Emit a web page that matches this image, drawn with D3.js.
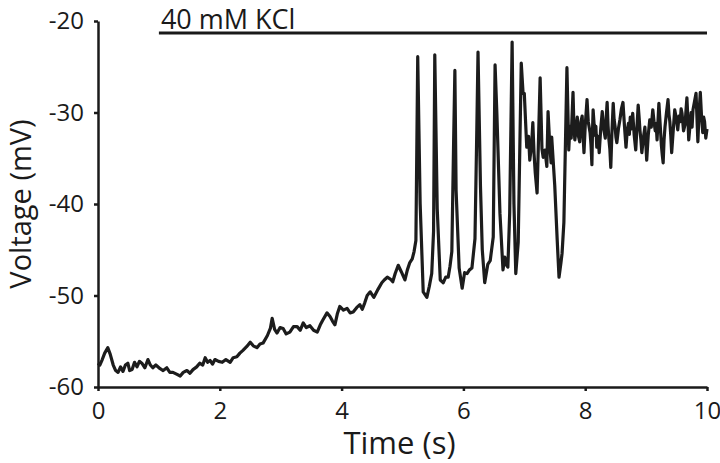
<!DOCTYPE html>
<html lang="en">
<head>
<meta charset="UTF-8">
<title>Voltage trace</title>
<script src="https://d3js.org/d3.v7.min.js"></script>
<style>
    body { margin: 0; background: #fff; }
    svg text { font-family: 'Open Sans', sans-serif; fill: #1a1a1a; }
</style>
</head>
<body>
<svg id="chart" width="720" height="463"></svg>
<script>
// time (s) and membrane voltage (mV)
let time = [
    0, 0.03, 0.07, 0.11, 0.16, 0.20, 0.25, 0.29, 0.33, 0.37, 0.41, 0.45, 0.49, 0.52, 0.56, 0.60, 0.64, 0.68, 0.72, 0.77,
    0.82, 0.86, 0.90, 0.95, 1.02, 1.07, 1.13, 1.18, 1.23, 1.29, 1.35, 1.40, 1.46, 1.51, 1.56, 1.62, 1.67, 1.72, 1.76, 1.80,
    1.84, 1.88, 1.92, 1.98, 2.04, 2.10, 2.17, 2.22, 2.28, 2.33, 2.38, 2.44, 2.50,
    2.55, 2.61, 2.66, 2.71, 2.78, 2.83, 2.86, 2.90, 2.94, 2.99, 3.04, 3.09, 3.15, 3.21, 3.27, 3.32, 3.37, 3.42, 3.48, 3.54,
    3.60, 3.65, 3.69, 3.76, 3.81, 3.85, 3.89, 3.93, 3.97, 4.03, 4.09, 4.14, 4.19, 4.25, 4.30, 4.34, 4.38, 4.42, 4.47, 4.53,
    4.60, 4.66, 4.70, 4.75, 4.80, 4.84, 4.88, 4.93, 4.98, 5.04, 5.08, 5.12, 5.16, 5.19,
    5.22, 5.25, 5.29, 5.34, 5.40, 5.44, 5.48, 5.51, 5.53, 5.57, 5.62, 5.67, 5.71, 5.75, 5.78, 5.81, 5.84, 5.86, 5.88, 5.93,
    5.98, 6.02, 6.06, 6.10, 6.14, 6.19, 6.22, 6.24, 6.28, 6.31, 6.35, 6.40, 6.44, 6.49, 6.52, 6.55, 6.60, 6.65, 6.68, 6.70,
    6.73, 6.76, 6.80, 6.83, 6.86, 6.90, 6.95, 6.98,
    7.00, 7.04, 7.07, 7.09, 7.12, 7.14, 7.16, 7.18, 7.21, 7.26, 7.29, 7.31, 7.34, 7.37, 7.39, 7.42, 7.44, 7.45, 7.50, 7.54,
    7.57, 7.60, 7.62, 7.65, 7.70,
    7.73, 7.745, 7.76, 7.77, 7.78, 7.80, 7.815, 7.83, 7.85, 7.87, 7.89, 7.91, 7.93, 7.95, 7.965, 7.98, 8.00, 8.03, 8.05, 8.08,
    8.095, 8.11, 8.12, 8.13, 8.145, 8.16, 8.175, 8.19, 8.21, 8.23, 8.255, 8.28, 8.30, 8.33, 8.345, 8.36, 8.375, 8.39, 8.405, 8.42,
    8.44, 8.46, 8.475, 8.49, 8.505, 8.52, 8.545, 8.57, 8.595, 8.62, 8.645, 8.67, 8.69, 8.71, 8.725, 8.74, 8.76, 8.78, 8.805, 8.83,
    8.85, 8.87, 8.885, 8.90, 8.915, 8.93, 8.955, 8.98, 8.995, 9.01, 9.035, 9.06, 9.085, 9.11, 9.13, 9.15, 9.165, 9.18, 9.195, 9.21,
    9.23, 9.25, 9.265, 9.28, 9.295, 9.31, 9.335, 9.36, 9.375, 9.39, 9.405, 9.42, 9.445, 9.47, 9.495, 9.52, 9.54, 9.56, 9.575, 9.59,
    9.615, 9.64, 9.655, 9.67, 9.685, 9.70, 9.72, 9.74, 9.755, 9.77, 9.795, 9.82, 9.835, 9.85, 9.87, 9.89, 9.91, 9.93, 9.945, 9.96,
    9.98, 10.0
]
let voltage = [
    -57.4, -57.6, -57.0, -56.3, -55.7, -56.4, -57.6, -58.2, -58.4, -57.8, -58.3, -57.6, -57.4, -58.2, -58.1, -57.3, -57.8, -57.2, -57.4, -57.9,
    -57.0, -57.6, -57.9, -57.6, -58.0, -58.2, -57.9, -58.4, -58.4, -58.6, -58.8, -58.4, -58.2, -58.5, -58.1, -57.8, -57.4, -57.6, -56.8, -57.3,
    -57.1, -57.5, -57.0, -57.2, -57.3, -57.0, -57.3, -56.8, -56.7, -56.3, -56.0, -55.6, -55.1,
    -55.5, -55.7, -55.3, -55.2, -54.4, -53.6, -52.5, -53.7, -54.1, -53.5, -53.6, -54.2, -54.0, -53.4, -53.4, -53.8, -53.0, -53.5, -53.3, -53.8,
    -54.0, -53.2, -52.7, -51.9, -52.3, -52.8, -53.2, -52.0, -51.2, -51.6, -51.4, -51.9, -51.8, -51.3, -51.0, -51.5, -50.8, -50.0, -49.6, -50.2,
    -49.3, -48.6, -48.3, -48.0, -48.2, -48.5, -47.6, -46.7, -47.4, -48.3, -47.2, -46.4, -46.0, -45.2,
    -44.0, -23.9, -40.0, -49.6, -50.2, -49.0, -47.6, -43.0, -23.7, -40.5, -48.3, -48.6, -48.0, -48.0, -46.8, -45.2, -33.0, -25.4, -38.5, -47.0,
    -49.2, -47.5, -47.6, -47.2, -47.0, -43.8, -32.0, -23.4, -38.0, -45.0, -48.6, -46.6, -46.2, -43.6, -24.8, -30.2, -41.0, -47.2, -45.8, -46.6,
    -46.9, -41.0, -22.3, -40.0, -47.6, -44.2, -24.6, -27.9,
    -27.9, -33.8, -32.6, -35.2, -33.5, -31.1, -34.5, -36.6, -38.8, -26.2, -34.0, -34.9, -34.1, -35.9, -29.9, -33.8, -35.5, -32.7, -38.0, -43.9,
    -48.0, -46.5, -45.4, -42.0, -25.1,
    -34.1, -32.0, -31.5, -32.8, -31.1, -27.8, -31.5, -33.0, -31.8, -30.5, -32.6, -33.2, -31.0, -30.4, -32.5, -34.4, -31.5, -28.6, -31.0, -32.2,
    -33.5, -35.7, -32.0, -29.7, -31.2, -32.5, -31.5, -33.8, -32.6, -34.4, -31.8, -29.9, -31.6, -32.8, -30.6, -28.9, -31.4, -33.0, -34.0, -36.0,
    -32.0, -29.0, -30.8, -31.5, -32.7, -33.3, -31.8, -30.8, -29.6, -28.9, -31.5, -33.8, -32.0, -31.2, -32.4, -30.5, -31.8, -30.1, -32.5, -34.1,
    -31.6, -29.2, -30.5, -32.0, -33.0, -34.4, -32.8, -31.6, -33.3, -35.2, -32.5, -30.8, -31.6, -29.7, -31.0, -32.0, -31.2, -33.0, -31.0, -29.0,
    -31.2, -33.5, -34.6, -35.5, -33.0, -31.6, -30.0, -28.6, -30.2, -31.0, -32.5, -34.4, -32.0, -29.7, -30.6, -31.9, -30.4, -31.0, -29.6, -30.1,
    -32.0, -31.3, -29.8, -28.4, -30.5, -33.0, -31.5, -30.0, -31.6, -29.7, -28.8, -27.9, -30.5, -33.2, -30.0, -27.8, -30.4, -32.2, -30.5, -31.0,
    -32.8, -31.8
]
let xTicks = [0, 2, 4, 6, 8, 10]
let yTicks = [-60, -50, -40, -30, -20]
// KCl application bar: from 1 s to the end, drawn just under -20 mV
let kclStart = 1
let kclEnd = 10
let kclLevel = -21.3
let kclLabel = '40 mM KCl'

let svg = d3.select('#chart')
let margin = {left: 98, right: 13, top: 21, bottom: 76}
let width = 720, height = 463

let x = d3.scaleLinear().domain([0, 10]).range([margin.left, width - margin.right])
let y = d3.scaleLinear().domain([-60, -20]).range([height - margin.bottom, margin.top])

let trace = time.map((t, i) => [t, voltage[i]])

svg.append('g')
    .attr('transform', `translate(0,${y(-60)})`)
    .call(d3.axisBottom(x).tickValues(xTicks).tickFormat(d => String(d))
        .tickSize(4).tickSizeOuter(0).tickPadding(11))
svg.append('g')
    .attr('transform', `translate(${x(0)},0)`)
    .call(d3.axisLeft(y).tickValues(yTicks).tickFormat(d => String(d))
        .tickSize(4).tickSizeOuter(0).tickPadding(10))

svg.selectAll('.domain, .tick line')
    .attr('stroke', '#1a1a1a')
    .attr('stroke-width', 2.5)
svg.selectAll('.tick text')
    .style('font-size', '24px')
    .attr('fill', '#1a1a1a')

svg.append('path')
    .datum(trace)
    .attr('fill', 'none')
    .attr('stroke', '#1c1c1c')
    .attr('stroke-width', 3.2)
    .attr('stroke-linejoin', 'round')
    .attr('d', d3.line().x(d => x(d[0])).y(d => y(d[1])))

svg.append('line')
    .attr('x1', x(kclStart))
    .attr('x2', x(kclEnd))
    .attr('y1', y(kclLevel))
    .attr('y2', y(kclLevel))
    .attr('stroke', '#1a1a1a')
    .attr('stroke-width', 3)
svg.append('text')
    .attr('x', x(kclStart) + 2)
    .attr('y', 29)
    .style('font-size', '27px')
    .text(kclLabel)

svg.append('text')
    .attr('x', (x(0) + x(10)) / 2 - 3)
    .attr('y', 454)
    .attr('text-anchor', 'middle')
    .style('font-size', '31px')
    .text('Time (s)')
svg.append('text')
    .attr('transform', `translate(31,${(y(-60) + y(-20)) / 2})rotate(-90)`)
    .attr('text-anchor', 'middle')
    .style('font-size', '29px')
    .text('Voltage (mV)')
</script>
</body>
</html>
